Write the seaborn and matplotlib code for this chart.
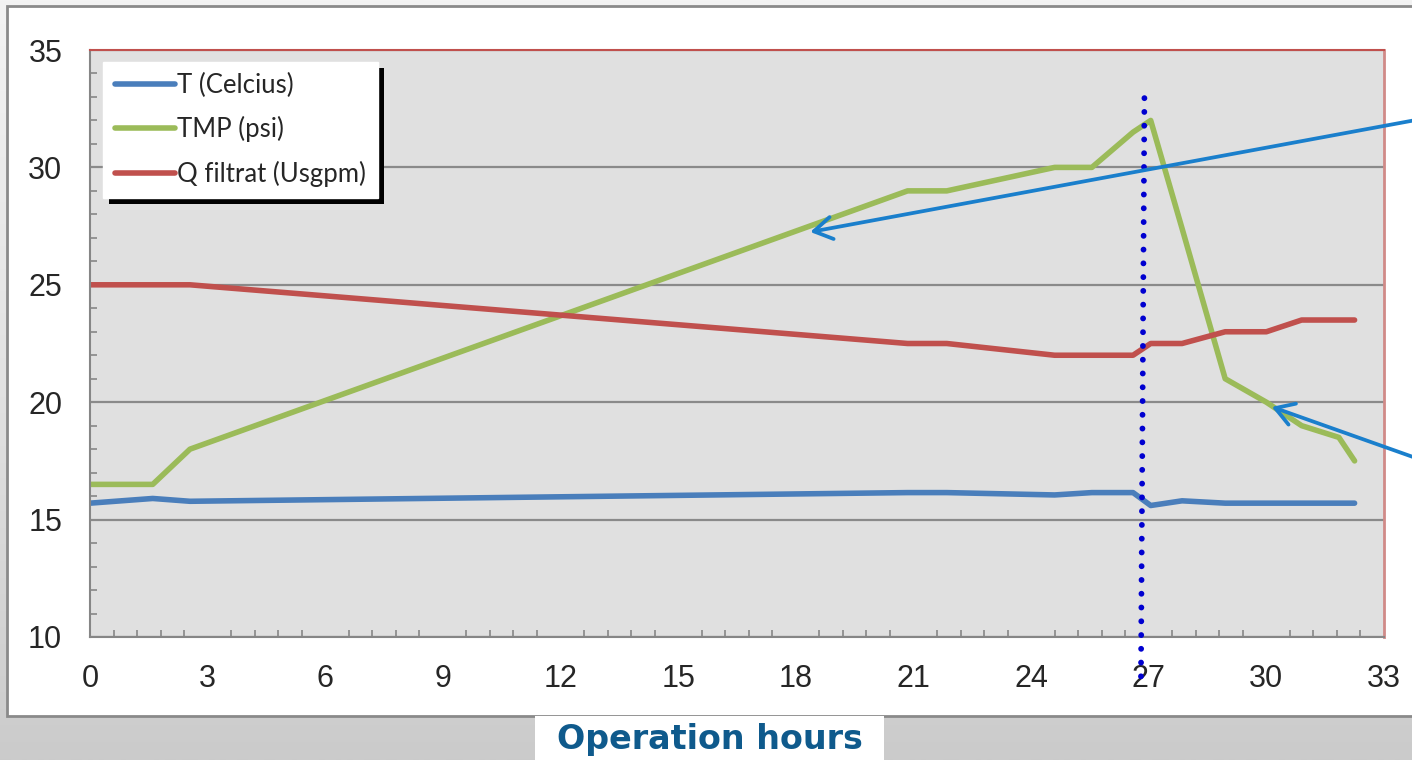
import numpy as np
import pandas as pd
import matplotlib
matplotlib.use("Agg")
import matplotlib.pyplot as plt
from matplotlib.patches import Rectangle
from matplotlib.transforms import IdentityTransform
from matplotlib.ticker import MultipleLocator
from matplotlib.colors import LinearSegmentedColormap
import seaborn as sns

# operation hours (shared sampling times)
hours = [0, 1.6, 2.55, 20.85, 21.85, 24.6, 25.55, 26.6, 27.05, 27.85,
         28.95, 30.0, 30.9, 31.85, 32.25]
temp_c = [15.7, 15.9, 15.78, 16.15, 16.15, 16.05, 16.15, 16.15, 15.6, 15.8,
          15.7, 15.7, 15.7, 15.7, 15.7]
tmp_psi = [16.5, 16.5, 18.0, 29.0, 29.0, 30.0, 30.0, 31.5, 32.0, 27.4,
           21.0, 20.0, 19.0, 18.5, 17.5]
q_filtrat = [25.0, 25.0, 25.0, 22.5, 22.5, 22.0, 22.0, 22.0, 22.5, 22.5,
             23.0, 23.0, 23.5, 23.5, 23.5]

series_names = ["T (Celcius)", "TMP (psi)", "Q filtrat (Usgpm)"]
series_colors = ["#4a7ebb", "#9bbb59", "#c0504d"]

# vertical dotted marker near 27 h (top / bottom points)
marker_x = [26.89, 26.80]
marker_y = [32.95, 7.8]

# annotation arrow tips (data coords) and tails (figure fraction, off the right edge)
arrow_tips = [(18.37, 27.25), (30.14, 19.8)]
arrow_tails = [(1.02, 0.848), (1.02, 0.386)]

df = pd.DataFrame({
    "hours": hours * 3,
    "value": temp_c + tmp_psi + q_filtrat,
    "series": sum([[n] * len(hours) for n in series_names], []),
})

sns.set_style("white")
fig = plt.figure(figsize=(14.12, 7.6), dpi=100)
W, H = 1412, 760

# background gradient
bg = fig.add_axes([0, 0, 1, 1], zorder=-10)
grad = np.linspace(0, 1, 256).reshape(-1, 1)
cmap = LinearSegmentedColormap.from_list("bg", ["#f3f3f3", "#e2e2e2", "#cbcbcb"])
bg.imshow(grad, aspect="auto", cmap=cmap, extent=[0, 1, 0, 1])
bg.axis("off")

# white chart panel
fig.patches.append(Rectangle((7, H - 716), 1420, 716 - 6, transform=IdentityTransform(),
                             facecolor="white", edgecolor="#8a8a8a", linewidth=2, zorder=-5))

ax = fig.add_axes([90 / W, 1 - 637 / H, (1384 - 90) / W, (637 - 50) / H])
ax.set_facecolor("#e0e0e0")

sns.lineplot(data=df, x="hours", y="value", hue="series", hue_order=series_names,
             palette=series_colors, linewidth=4.0, sort=False, legend=False, ax=ax,
             solid_capstyle="round")

ax.set_xlim(0, 33)
ax.set_ylim(10, 35)
ax.xaxis.set_major_locator(MultipleLocator(3))
ax.xaxis.set_minor_locator(MultipleLocator(0.6))
ax.yaxis.set_major_locator(MultipleLocator(5))
ax.yaxis.set_minor_locator(MultipleLocator(1))
ax.grid(axis="y", which="major", color="#8a8a8a", linewidth=1.6)
ax.grid(axis="x", visible=False)
ax.set_axisbelow(True)

ax.tick_params(axis="y", which="major", direction="out", length=10, width=1.5,
               color="#868686", pad=10, labelsize=22)
ax.tick_params(axis="y", which="minor", direction="in", length=5, width=1.2,
               color="#868686", left=True)
ax.tick_params(axis="x", which="major", direction="inout", length=15, width=1.5,
               color="#868686", pad=12, labelsize=22)
ax.tick_params(axis="x", which="minor", direction="in", length=5, width=1.2,
               color="#868686", bottom=True)
for lab in ax.get_xticklabels() + ax.get_yticklabels():
    lab.set_fontfamily("Liberation Sans")
ax.set_xlabel("")
ax.set_ylabel("")

for side in ["left", "bottom"]:
    ax.spines[side].set_color("#868686")
    ax.spines[side].set_linewidth(1.5)
ax.spines["top"].set_color("#c0504d")
ax.spines["top"].set_linewidth(1.5)
ax.spines["right"].set_color("#d08a88")
ax.spines["right"].set_linewidth(2)
for s in ax.spines.values():
    s.set_visible(True)

# dotted marker line
ax.plot(marker_x, marker_y, color="#0000d0", linewidth=4.2,
        linestyle=(0, (0.01, 2.35)), dash_capstyle="round", clip_on=False, zorder=6)

# annotation arrows
for tip, tail in zip(arrow_tips, arrow_tails):
    ax.annotate("", xy=tip, xycoords="data", xytext=tail, textcoords="figure fraction",
                arrowprops=dict(arrowstyle="->,head_length=1.3,head_width=0.8",
                                color="#1a7fcc", linewidth=2.7, shrinkA=0, shrinkB=0,
                                capstyle="round", joinstyle="round"),
                annotation_clip=False, zorder=7)

# legend
handles = [plt.Line2D([], [], color=c, linewidth=4.0, solid_capstyle="round")
           for c in series_colors]
leg = ax.legend(handles, series_names, loc="upper left", bbox_to_anchor=(0.01, 0.98),
                borderaxespad=0, frameon=True, fancybox=False, framealpha=1,
                edgecolor="white", facecolor="white", handlelength=2.35,
                handletextpad=0.1, borderpad=0.45, labelspacing=0.7,
                prop={"family": "Lato", "size": 18.5})
leg.set_zorder(10)

fig.canvas.draw()
bb = leg.get_frame().get_window_extent()
ax.add_patch(Rectangle((bb.x0 + 6, bb.y0 - 6), bb.width, bb.height,
                       transform=IdentityTransform(), facecolor="black",
                       edgecolor="none", clip_on=False, zorder=9))

# x axis title in its white tab
fig.patches.append(Rectangle((535, 0), 349, H - 716, transform=IdentityTransform(),
                             facecolor="white", edgecolor="none", zorder=-4))
fig.text(710 / W, 1 - 740 / H, "Operation hours", ha="center", va="center",
         fontsize=24, fontweight="bold", color="#0f5a8c", family="DejaVu Sans")

fig.savefig("out.png", dpi=100)
